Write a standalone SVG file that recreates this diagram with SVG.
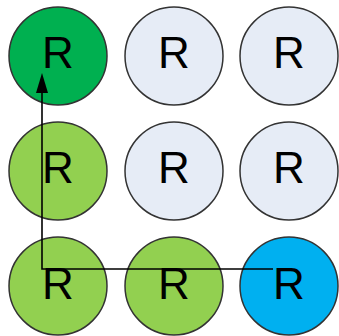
<svg xmlns="http://www.w3.org/2000/svg" width="339" height="336" viewBox="0 0 339 336">
  <style>
    .node circle { stroke: #333333; stroke-width: 1.5; }
    .node text { font-family: "Liberation Sans", Arial, sans-serif; font-size: 44px; fill: #000000; text-anchor: middle; }
    .dark { fill: #00B050; }
    .light { fill: #92D050; }
    .pale { fill: #E6ECF6; }
    .blue { fill: #00B0F0; }
    .path { fill: none; stroke: #000000; stroke-width: 1.6; }
  </style>
  <defs>
    <marker id="arrow" markerWidth="20" markerHeight="12" refX="0" refY="6" orient="auto" markerUnits="userSpaceOnUse" viewBox="0 0 20 12">
      <path d="M0,0 L20,6 L0,12 Z" fill="#000000"/>
    </marker>
  </defs>

  <!-- row 1 -->
  <g id="r1c1" class="node"><circle class="dark" cx="58" cy="56" r="49"/><text x="58" y="68">R</text></g>
  <g id="r1c2" class="node"><circle class="pale" cx="174" cy="56" r="49"/><text x="174" y="68">R</text></g>
  <g id="r1c3" class="node"><circle class="pale" cx="289" cy="56" r="49"/><text x="289" y="68">R</text></g>
  <!-- row 2 -->
  <g id="r2c1" class="node"><circle class="light" cx="58" cy="171" r="49"/><text x="58" y="183">R</text></g>
  <g id="r2c2" class="node"><circle class="pale" cx="174" cy="171" r="49"/><text x="174" y="183">R</text></g>
  <g id="r2c3" class="node"><circle class="pale" cx="289" cy="171" r="49"/><text x="289" y="183">R</text></g>
  <!-- row 3 -->
  <g id="r3c1" class="node"><circle class="light" cx="58" cy="286" r="49"/><text x="58" y="299">R</text></g>
  <g id="r3c2" class="node"><circle class="light" cx="174" cy="286" r="49"/><text x="174" y="299">R</text></g>
  <g id="r3c3" class="node"><circle class="blue" cx="289" cy="286" r="49"/><text x="289" y="299">R</text></g>

  <!-- route from bottom-right back up to top-left -->
  <g id="connectors">
    <polyline class="path" points="273,269 42,269 42,93" marker-end="url(#arrow)"/>
  </g>
</svg>
